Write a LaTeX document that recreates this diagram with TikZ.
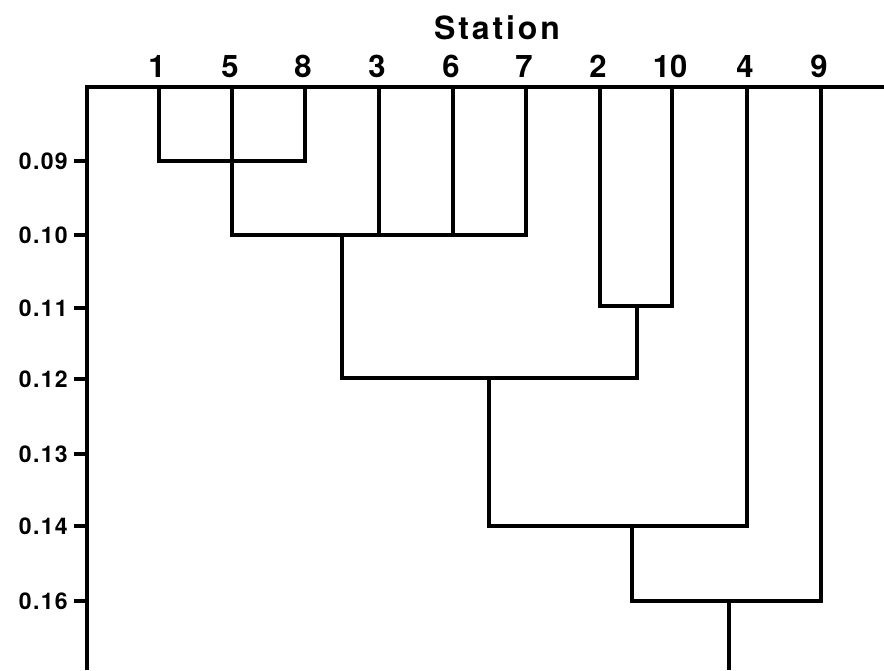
\documentclass[tikz,border=0pt]{standalone}
\usepackage{fontspec}
\setmainfont{TeX Gyre Heros}
\newfontfamily\tickfont[LetterSpace=6]{TeX Gyre Heros}
\newfontfamily\titlefont[LetterSpace=9]{TeX Gyre Heros}
\begin{document}
\begin{tikzpicture}[x=1pt,y=-1pt,
  line/.style={line width=3.2pt,line cap=rect,line join=miter},
  leaflab/.style={font=\fontsize{31}{32}\selectfont\bfseries,inner sep=0pt,anchor=base},
  ticklab/.style={font=\tickfont\fontsize{23}{24}\selectfont\bfseries,inner sep=0pt,anchor=east},
  titlelab/.style={font=\titlefont\fontsize{32}{33}\selectfont\bfseries,inner sep=0pt,anchor=base}]
\useasboundingbox (0,0) rectangle (884,670);
% axes
\coordinate (tl) at (87,87);
\coordinate (tr) at (884,87);
\coordinate (bl) at (87,670);
\draw[line,line cap=butt] (bl) -- (tl) -- (tr);
% title
\node[titlelab] (title) at (497,39) {Station};
% leaves
\foreach \n/\x in {1/159,5/232,8/305,3/379,6/453,7/526,2/600,10/672,4/747,9/821}{
  \coordinate (L\n) at (\x,87);
  \node[leaflab] (T\n) at (\x-2,77) {\n};
}
% y ticks
\foreach \i/\v/\y in {9/0.09/161,10/0.10/235,11/0.11/308,12/0.12/379,13/0.13/454,14/0.14/526,16/0.16/601}{
  \coordinate (k\i) at (74,\y);
  \coordinate (a\i) at (87,\y);
  \draw[line,line cap=butt] (k\i) -- (a\i);
  \node[ticklab] (lab\i) at (68,\y) {\v};
}
% merges
\coordinate (m1) at (159,161); \coordinate (m8) at (305,161);
\draw[line] (L1) -- (m1) -- (m8) -- (L8);
\coordinate (m5) at (232,235); \coordinate (m7) at (526,235);
\draw[line] (L5) -- (m5) -- (m7) -- (L7);
\coordinate (m3) at (379,235); \coordinate (m6) at (453,235);
\draw[line] (L3) -- (m3);
\draw[line] (L6) -- (m6);
\coordinate (m2) at (600,306); \coordinate (m10) at (672,306);
\draw[line] (L2) -- (m2) -- (m10) -- (L10);
\coordinate (c1) at (342,235); \coordinate (c1b) at (342,378);
\coordinate (c2) at (637,306); \coordinate (c2b) at (637,378);
\draw[line] (c1) -- (c1b) -- (c2b) -- (c2);
\coordinate (c3) at (489,378); \coordinate (c3b) at (489,526);
\coordinate (m4) at (747,526);
\draw[line] (c3) -- (c3b) -- (m4) -- (L4);
\coordinate (c4) at (632,526); \coordinate (c4b) at (632,601);
\coordinate (m9) at (821,601);
\draw[line] (c4) -- (c4b) -- (m9) -- (L9);
\coordinate (root) at (729,601); \coordinate (rootb) at (729,670);
\draw[line,line cap=butt] (root) -- (rootb);
\end{tikzpicture}
\end{document}
